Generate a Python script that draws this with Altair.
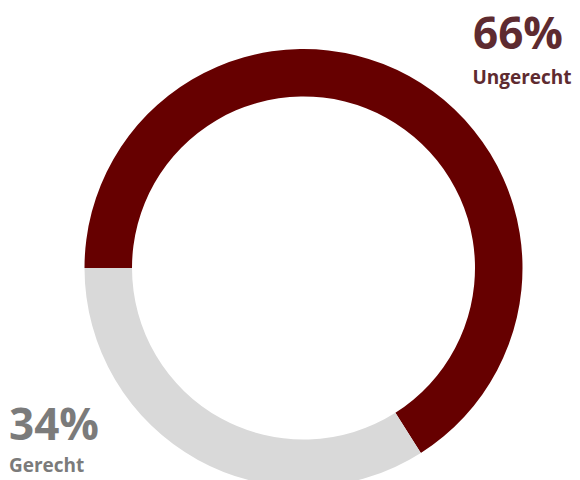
import math
import altair as alt
import pandas as pd

categories = ["Ungerecht", "Gerecht"]
values = [66, 34]
colors = ["#660000", "#d9d9d9"]
label_colors = ["#5e2b30", "#7b7b7b"]

df = pd.DataFrame({
    "category": categories,
    "value": values,
    "order": list(range(len(categories))),
    "pct": [f"{v}%" for v in values],
})

start = 1.5 * math.pi
arc = alt.Chart(df).mark_arc(radius=219, radius2=171.5).encode(
    theta=alt.Theta("value:Q", stack=True,
                    scale=alt.Scale(range=[start, start + 2 * math.pi])),
    color=alt.Color("category:N", scale=alt.Scale(domain=categories, range=colors), legend=None),
    order=alt.Order("order:Q"),
    x=alt.value(295.5),
    y=alt.value(260),
)

font = "Open Sans"

def label(cat, color, xbig, xsmall, ybig, ysmall, align):
    base = alt.Chart(df).transform_filter(alt.datum.category == cat)
    big = base.mark_text(font=font, fontWeight="bold", fontSize=44, color=color,
                         align=align, baseline="alphabetic").encode(
        text="pct:N", x=alt.value(xbig), y=alt.value(ybig))
    small = base.mark_text(font=font, fontWeight="bold", fontSize=19, color=color,
                           align=align, baseline="alphabetic").encode(
        text="category:N", x=alt.value(xsmall), y=alt.value(ysmall))
    return big + small

chart = alt.layer(
    arc,
    label("Ungerecht", label_colors[0], 510, 514, 41, 76, "center"),
    label("Gerecht", label_colors[1], 1, 1, 432, 464, "left"),
).properties(
    width=564, height=472, padding=0,
    autosize=alt.AutoSizeParams(type="none"),
).configure_view(stroke=None)

chart.save("out.html", embed_options={"renderer": "svg", "actions": False})
